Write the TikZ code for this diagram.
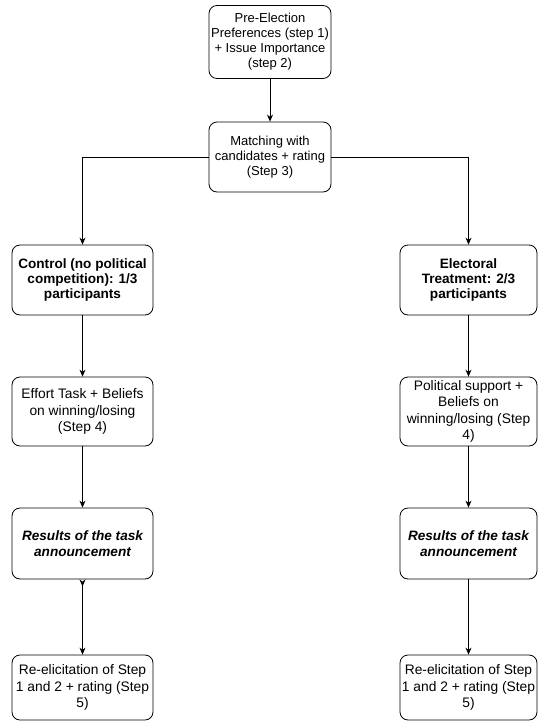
\documentclass[tikz,border=0pt]{standalone}
\usepackage{fontspec}
\setmainfont{Liberation Sans}
\usetikzlibrary{arrows.meta}
\begin{document}
\begin{tikzpicture}[x=1pt,y=-1pt,
  box/.style={draw, rounded corners=8pt, line width=0.8pt, align=center,
    font=\fontsize{13}{15}\selectfont, inner sep=1pt},
  lbox/.style={box, font=\fontsize{13.8}{16.5}\selectfont},
  bbox/.style={box, font=\fontsize{13.6}{15}\selectfont\bfseries},
  ibox/.style={box, font=\fontsize{13.6}{16.5}\selectfont\bfseries\itshape},
  arr/.style={-{Stealth[length=7pt,width=6pt]}, line width=0.8pt}]
\useasboundingbox (0,0) rectangle (538,723);
\node[box, minimum width=122pt, minimum height=73pt] (pre) at (270,42)
  {Pre-Election\\Preferences (step 1)\\+ Issue Importance\\(step 2)};
\node[box, minimum width=122pt, minimum height=70pt] (match) at (270,157)
  {Matching with\\candidates + rating\\(Step 3)};
\node[bbox, minimum width=141pt, minimum height=70pt] (ctrl) at (82.5,280)
  {Control (no political\\competition): 1/3\\participants};
\node[bbox, minimum width=137pt, minimum height=70pt] (elec) at (468.5,280)
  {Electoral\\Treatment: 2/3\\participants};
\node[lbox, minimum width=141pt, minimum height=69pt] (effort) at (82.5,411.5)
  {Effort Task + Beliefs\\on winning/losing\\(Step 4)};
\node[lbox, minimum width=137pt, minimum height=69pt] (pol) at (468.5,411.5)
  {Political support +\\Beliefs on\\winning/losing (Step\\4)};
\node[ibox, minimum width=141pt, minimum height=71pt] (resL) at (82.5,543.5)
  {Results of the task\\announcement};
\node[ibox, minimum width=137pt, minimum height=71pt] (resR) at (468.5,543.5)
  {Results of the task\\announcement};
\node[lbox, minimum width=141pt, minimum height=65pt] (reL) at (82.5,687.5)
  {Re-elicitation of Step\\1 and 2 + rating (Step\\5)};
\node[lbox, minimum width=137pt, minimum height=65pt] (reR) at (468.5,687.5)
  {Re-elicitation of Step\\1 and 2 + rating (Step\\5)};
\draw[arr] (pre) -- (match);
\draw[arr] (match.west) -| (ctrl.north);
\draw[arr] (match.east) -| (elec.north);
\draw[arr] (ctrl) -- (effort);
\draw[arr] (elec) -- (pol);
\draw[arr] (effort) -- (resL);
\draw[arr] (pol) -- (resR);
\draw[line width=0.8pt, {Stealth[reversed,length=7pt,width=6pt]}-{Stealth[length=7pt,width=6pt]}] (resL) -- (reL);
\draw[arr] (resR) -- (reR);
\end{tikzpicture}
\end{document}
